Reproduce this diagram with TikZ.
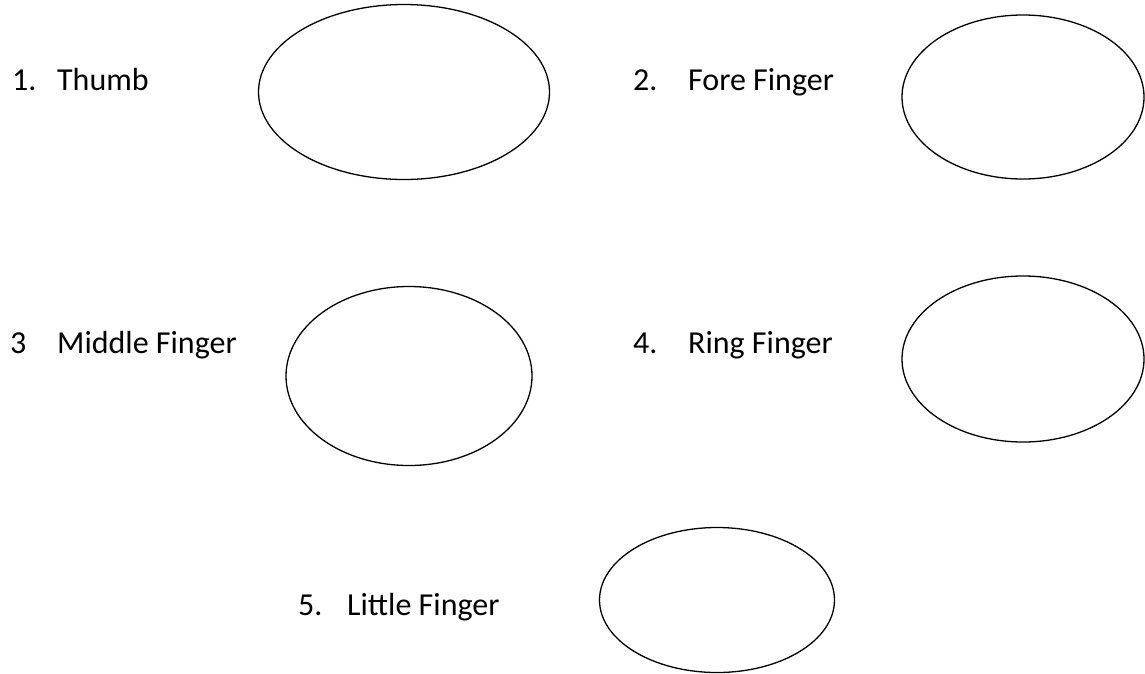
\documentclass[tikz,border=0pt]{standalone}
\usepackage{fontspec}
\setmainfont{Carlito}
\usetikzlibrary{shapes.geometric}

\begin{document}
\begin{tikzpicture}[x=1pt, y=-1pt,
        every node/.style={font=\fontsize{32}{38}\selectfont},
        label/.style={anchor=base west, inner sep=0pt},
        print/.style={draw=black, ellipse, line width=1.3pt, inner sep=0pt}]
      \useasboundingbox (0,0) rectangle (1145,673);
      \node[label] (thumb) at (12,90) {\makebox[45pt][l]{1.}Thumb};
      \node[print, minimum width=291pt, minimum height=175pt] (thumbprint) at (404,92) {};
      \node[label] (fore) at (633,90) {\makebox[55pt][l]{2.}Fore Finger};
      \node[print, minimum width=242pt, minimum height=164pt] (foreprint) at (1023,97) {};
      \node[label] (middle) at (10,353) {\makebox[47pt][l]{3}Middle Finger};
      \node[print, minimum width=246pt, minimum height=179pt] (middleprint) at (409,376) {};
      \node[label] (ring) at (633,353) {\makebox[55pt][l]{4.}Ring Finger};
      \node[print, minimum width=242pt, minimum height=166pt] (ringprint) at (1023,359) {};
      \node[label] (little) at (298,615) {\makebox[49pt][l]{5.}Little Finger};
      \node[print, minimum width=235pt, minimum height=145pt] (littleprint) at (717,600) {};
    \end{tikzpicture}
\end{document}
